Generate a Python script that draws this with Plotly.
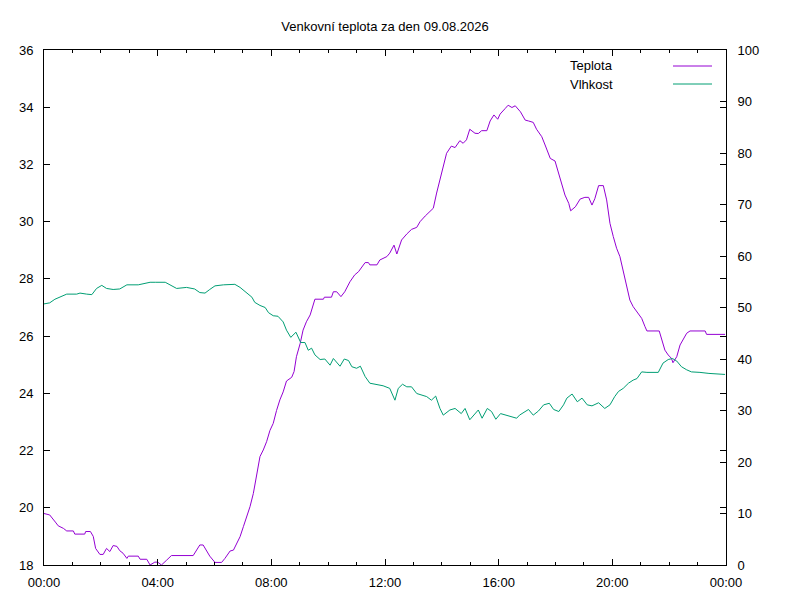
import pandas as pd
import plotly.graph_objects as go

# datum a casy mereni
day = "2026-08-09"

teplota_cas = ["00:00", "00:12", "00:24", "00:30", "00:41", "00:48", "01:02", "01:05", "01:26", "01:28",
               "01:38", "01:44", "01:49", "01:58", "02:05", "02:12", "02:19", "02:26", "02:34", "02:40",
               "02:47", "02:55", "02:58", "03:19", "03:23", "03:37", "03:44", "03:54", "04:00", "04:08",
               "04:19", "04:29", "05:15", "05:18", "05:29", "05:36", "05:43", "05:50", "06:01", "06:15",
               "06:22", "06:33", "06:40", "06:47", "06:54", "07:01", "07:08", "07:15", "07:22", "07:29",
               "07:36", "07:43", "07:50", "07:57", "08:04", "08:11", "08:18", "08:25", "08:32", "08:43",
               "08:48", "08:53", "09:01", "09:07", "09:14", "09:22", "09:29", "09:32", "09:50", "09:52",
               "10:07", "10:11", "10:18", "10:27", "10:35", "10:46", "10:56", "11:04", "11:18", "11:25",
               "11:28", "11:43", "11:49", "12:04", "12:10", "12:19", "12:25", "12:35", "12:46", "12:56",
               "13:07", "13:14", "13:25", "13:35", "13:42", "13:49", "13:56", "14:03", "14:10", "14:20",
               "14:28", "14:38", "14:45", "14:52", "14:59", "15:10", "15:17", "15:24", "15:35", "15:42",
               "15:50", "15:58", "16:03", "16:14", "16:20", "16:28", "16:35", "16:46", "16:56", "17:03",
               "17:13", "17:20", "17:31", "17:38", "17:49", "17:59", "18:07", "18:13", "18:20", "18:28",
               "18:32", "18:42", "18:52", "19:02", "19:10", "19:17", "19:23", "19:31", "19:41", "19:48",
               "19:55", "20:02", "20:09", "20:16", "20:23", "20:31", "20:37", "20:44", "20:55", "21:02",
               "21:09", "21:13", "21:39", "21:44", "21:51", "21:58", "22:05", "22:08", "22:16", "22:23",
               "22:30", "22:37", "22:44", "23:16", "23:19", "23:58"]
teplota = [19.8, 19.75, 19.5, 19.37, 19.28, 19.19, 19.19, 19.08, 19.08, 19.17,
           19.17, 19.0, 18.58, 18.37, 18.37, 18.58, 18.47, 18.68, 18.65, 18.5,
           18.41, 18.23, 18.31, 18.31, 18.2, 18.2, 18.0, 18.1, 18.1, 18.0,
           18.17, 18.33, 18.33, 18.41, 18.7, 18.7, 18.52, 18.31, 18.09, 18.09,
           18.23, 18.49, 18.52, 18.76, 18.99, 19.34, 19.69, 20.04, 20.5, 21.2,
           21.79, 22.02, 22.31, 22.7, 22.95, 23.4, 23.77, 24.05, 24.43, 24.56,
           24.76, 25.28, 25.75, 26.21, 26.5, 26.74, 27.15, 27.29, 27.29, 27.36,
           27.36, 27.55, 27.55, 27.38, 27.55, 27.9, 28.14, 28.25, 28.57, 28.57,
           28.49, 28.49, 28.66, 28.78, 28.9, 29.18, 28.87, 29.36, 29.57, 29.73,
           29.8, 30.0, 30.2, 30.35, 30.47, 31.0, 31.46, 31.92, 32.39, 32.64,
           32.59, 32.83, 32.74, 32.86, 33.23, 33.09, 33.08, 33.18, 33.18, 33.52,
           33.73, 33.58, 33.76, 33.96, 34.07, 33.99, 34.05, 33.84, 33.55, 33.52,
           33.47, 33.23, 32.97, 32.68, 32.21, 32.12, 31.69, 31.34, 30.93, 30.64,
           30.38, 30.52, 30.79, 30.85, 30.85, 30.58, 30.8, 31.26, 31.26, 30.76,
           29.94, 29.48, 29.07, 28.78, 28.25, 27.61, 27.26, 27.03, 26.8, 26.62,
           26.33, 26.18, 26.18, 25.86, 25.51, 25.34, 25.22, 25.07, 25.28, 25.69,
           25.92, 26.1, 26.18, 26.18, 26.06, 26.06]

vlhkost_cas = ["00:00", "00:12", "00:23", "00:34", "00:48", "01:09", "01:16", "01:30", "01:41", "01:51",
               "02:02", "02:12", "02:26", "02:40", "02:55", "03:19", "03:29", "03:44", "03:56", "04:16",
               "04:26", "04:40", "05:01", "05:18", "05:29", "05:40", "05:50", "06:01", "06:19", "06:43",
               "06:54", "07:08", "07:19", "07:25", "07:36", "07:47", "07:54", "08:04", "08:14", "08:25",
               "08:32", "08:41", "08:52", "09:02", "09:11", "09:18", "09:25", "09:32", "09:43", "09:53",
               "10:04", "10:11", "10:18", "10:25", "10:34", "10:43", "10:50", "11:00", "11:08", "11:18",
               "11:28", "11:43", "11:56", "12:10", "12:21", "12:28", "12:37", "12:46", "12:56", "13:07",
               "13:17", "13:28", "13:38", "13:47", "13:56", "14:03", "14:17", "14:28", "14:41", "14:49",
               "14:59", "15:08", "15:17", "15:25", "15:36", "15:45", "15:54", "16:04", "16:17", "16:28",
               "16:38", "16:44", "16:52", "17:03", "17:13", "17:24", "17:35", "17:47", "17:56", "18:07",
               "18:17", "18:24", "18:35", "18:46", "18:56", "19:07", "19:17", "19:31", "19:44", "19:55",
               "20:05", "20:13", "20:23", "20:34", "20:44", "20:52", "21:02", "21:13", "21:37", "21:47",
               "21:58", "22:07", "22:16", "22:26", "22:37", "22:47", "23:05", "23:24", "23:58"]
vlhkost = [50.7, 50.9, 51.6, 52.0, 52.6, 52.6, 52.8, 52.6, 52.5, 53.7,
           54.3, 53.7, 53.5, 53.6, 54.4, 54.4, 54.6, 54.9, 54.9, 54.9,
           54.4, 53.7, 53.9, 53.6, 52.9, 52.8, 53.5, 54.2, 54.4, 54.5,
           53.9, 52.8, 52.0, 51.0, 50.4, 50.0, 49.0, 48.4, 48.3, 47.2,
           45.6, 44.2, 45.2, 43.2, 43.2, 41.7, 42.1, 40.8, 39.9, 40.0,
           38.8, 40.1, 39.4, 38.6, 40.0, 39.7, 38.5, 38.2, 38.6, 36.6,
           35.3, 35.0, 34.8, 34.3, 32.0, 34.3, 35.1, 34.6, 34.6, 33.3,
           33.0, 32.7, 32.0, 32.8, 30.4, 29.1, 30.1, 30.4, 29.4, 30.4,
           28.2, 29.1, 30.1, 28.5, 30.4, 29.8, 28.3, 29.4, 29.1, 28.8,
           28.5, 29.1, 29.6, 30.2, 29.1, 29.9, 31.1, 31.4, 30.2, 29.8,
           31.1, 32.4, 33.2, 31.7, 32.4, 31.1, 30.9, 31.5, 30.4, 31.1,
           32.7, 33.7, 34.3, 35.3, 35.9, 36.2, 37.5, 37.4, 37.4, 39.2,
           39.9, 40.1, 39.6, 38.5, 37.9, 37.5, 37.4, 37.2, 37.0]

x_ticks = ["00:00", "04:00", "08:00", "12:00", "16:00", "20:00", "00:00"]

t_temp = pd.to_datetime([day + " " + c for c in teplota_cas])
t_hum = pd.to_datetime([day + " " + c for c in vlhkost_cas])
start = pd.Timestamp(day)
tick_vals = [start + pd.Timedelta(hours=4 * i) for i in range(len(x_ticks))]

purple = "#9400d3"
green = "#009e73"
font = "Liberation Sans, Arial, sans-serif"

fig = go.Figure()
fig.add_trace(go.Scatter(x=t_temp, y=teplota, mode="lines", name="Teplota",
                         line=dict(color=purple, width=1), yaxis="y"))
fig.add_trace(go.Scatter(x=t_hum, y=vlhkost, mode="lines", name="Vlhkost",
                         line=dict(color=green, width=1), yaxis="y2"))

axis_common = dict(showgrid=False, zeroline=False, linecolor="black", linewidth=1,
                   ticks="inside", tickcolor="black", ticklen=6, tickwidth=1,
                   tickfont=dict(family=font, size=13, color="black"))

# stranka ma okraj 8 px, proto posunute okraje
fig.update_layout(
    width=800, height=600,
    margin=dict(l=36, r=82, t=42, b=43),
    plot_bgcolor="white", paper_bgcolor="white",
    title=dict(text="Venkovní teplota za den 09.08.2026", x=0.5, xref="paper", xanchor="center",
               y=1 - 18 / 600, yanchor="middle", font=dict(family=font, size=13, color="black")),
    showlegend=False,
    xaxis=dict(range=[start, start + pd.Timedelta(hours=24)], tickvals=tick_vals, ticktext=x_ticks,
               mirror="ticks", showline=True, ticklabelstandoff=5,
               minor=dict(dtick=3600000, ticks="inside", ticklen=3, tickcolor="black"),
               **axis_common),
    yaxis=dict(range=[18, 36], dtick=2, mirror="ticks", showline=True, ticklabelstandoff=7,
               **axis_common),
    yaxis2=dict(range=[0, 100], dtick=10, overlaying="y", side="right", showline=True,
                ticklabelstandoff=8, **axis_common),
)

# legenda ve stylu gnuplotu (text vlevo, cara vpravo)
legend_items = [("Teplota", purple, 66), ("Vlhkost", green, 84)]
for name, col, ypx in legend_items:
    yp = 1 - (ypx - 50) / 515
    fig.add_annotation(text=name, x=(615 - 44) / 682, y=yp, xref="paper", yref="paper",
                       xanchor="right", yanchor="middle", showarrow=False,
                       font=dict(family=font, size=13, color="black"))
    fig.add_shape(type="line", xref="paper", yref="paper", x0=(673 - 44) / 682, x1=(712 - 44) / 682,
                  y0=yp, y1=yp, line=dict(color=col, width=1))

fig.write_html("out.html")
